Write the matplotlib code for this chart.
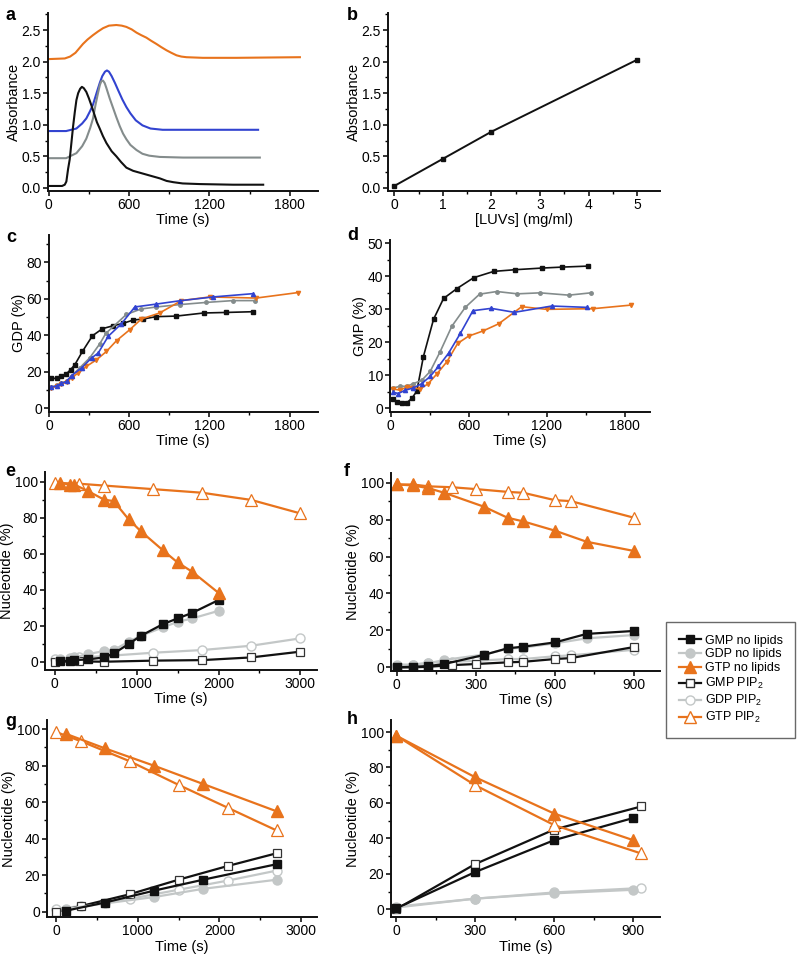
import numpy as np
import matplotlib
matplotlib.use("Agg")
import matplotlib.pyplot as plt
from matplotlib.ticker import MultipleLocator, FormatStrFormatter
from matplotlib.lines import Line2D

plt.rcParams['font.family'] = ['Liberation Sans', 'DejaVu Sans']
plt.rcParams['mathtext.fontset'] = 'custom'
plt.rcParams['mathtext.rm'] = 'Liberation Sans'

ORANGE = '#E8731C'
BLUE = '#3243D0'
GREY = '#848C8C'
LIGHT = '#C3C7C7'
BLACK = '#111111'

# panel a: absorbance traces
a_black_t = [0, 100, 120, 132, 145, 157, 170, 182, 195, 207, 220, 235, 248, 262, 281, 300, 320, 340, 360,
             381, 405, 431, 470, 505, 540, 580, 630, 680, 730, 780, 830, 880, 930, 1000, 1128, 1377, 1601]
a_black_y = [0.03, 0.03, 0.05, 0.10, 0.30, 0.45, 0.72, 0.97, 1.20, 1.39, 1.50, 1.57, 1.60, 1.58, 1.52, 1.42,
             1.30, 1.17, 1.04, 0.94, 0.82, 0.71, 0.58, 0.50, 0.41, 0.32, 0.27, 0.24, 0.21, 0.18, 0.15, 0.11,
             0.09, 0.07, 0.06, 0.05, 0.05]
a_grey_t = [0, 130, 207, 250, 281, 310, 331, 350, 368, 382, 393, 405, 418, 431, 455, 480, 505, 530, 555,
            580, 610, 655, 700, 750, 829, 1003, 1576]
a_grey_y = [0.47, 0.47, 0.55, 0.66, 0.78, 0.95, 1.10, 1.32, 1.50, 1.63, 1.69, 1.70, 1.66, 1.58, 1.42, 1.27,
            1.12, 0.98, 0.86, 0.77, 0.68, 0.60, 0.54, 0.51, 0.49, 0.48, 0.48]
a_blue_t = [0, 130, 207, 250, 281, 310, 331, 360, 381, 400, 420, 435, 450, 470, 495, 520, 550, 580, 610,
            650, 700, 760, 850, 1000, 1563]
a_blue_y = [0.90, 0.90, 0.94, 1.02, 1.10, 1.22, 1.32, 1.52, 1.66, 1.77, 1.84, 1.86, 1.84, 1.77, 1.66, 1.54,
            1.40, 1.28, 1.18, 1.07, 0.99, 0.94, 0.92, 0.92, 0.92]
a_orange_t = [0, 120, 160, 200, 256, 290, 331, 370, 406, 450, 505, 545, 580, 620, 655, 690, 729, 765, 804,
              840, 879, 915, 954, 990, 1028, 1150, 1400, 1875]
a_orange_y = [2.04, 2.05, 2.08, 2.14, 2.28, 2.35, 2.42, 2.48, 2.53, 2.57, 2.58, 2.57, 2.55, 2.51, 2.46, 2.42,
              2.38, 2.33, 2.28, 2.23, 2.18, 2.14, 2.10, 2.08, 2.07, 2.06, 2.06, 2.07]

# panel b: standard curve
b_conc = [0, 1, 2, 5]
b_abs = [0.03, 0.46, 0.89, 2.03]

# panel c: GDP (%)
c_black_t = [17, 55, 92, 125, 160, 192, 249, 324, 399, 479, 553, 628, 703, 803, 952, 1157, 1326, 1526]
c_black_y = [16.3, 16.3, 17.4, 18.5, 21.1, 23.8, 31.1, 39.7, 43.6, 45.2, 46.5, 48.3, 48.9, 50.2, 50.5, 52.2, 52.5, 52.9]
c_grey_t = [17, 55, 92, 130, 167, 229, 304, 379, 424, 578, 688, 803, 977, 1176, 1376, 1544]
c_grey_y = [11.3, 12.4, 13.7, 14.8, 17.6, 22.1, 27.6, 35.3, 41.0, 51.4, 54.4, 55.5, 56.8, 58.0, 59.0, 59.0]
c_blue_t = [17, 55, 92, 130, 167, 242, 317, 367, 442, 541, 641, 803, 977, 1226, 1525]
c_blue_y = [11.5, 12.2, 13.5, 14.6, 17.8, 22.0, 27.5, 30.2, 39.4, 46.3, 55.5, 57.1, 58.9, 61.0, 62.8]
c_orange_t = [17, 55, 92, 130, 167, 217, 279, 354, 429, 504, 603, 690, 827, 990, 1202, 1550, 1862]
c_orange_y = [11.0, 11.9, 13.0, 14.3, 16.7, 19.2, 22.9, 26.5, 31.1, 37.0, 43.0, 48.9, 52.2, 59.0, 61.0, 60.4, 63.4]

# panel d: GMP (%)
d_black_t = [21, 46, 85, 124, 162, 201, 252, 330, 407, 510, 639, 793, 955, 1162, 1320, 1519]
d_black_y = [2.7, 1.9, 1.7, 1.7, 3.0, 5.2, 15.7, 27.0, 33.3, 36.3, 39.6, 41.5, 42.0, 42.5, 42.8, 43.1]
d_grey_t = [21, 72, 124, 175, 239, 304, 381, 471, 574, 684, 817, 975, 1149, 1371, 1540]
d_grey_y = [6.2, 6.7, 6.7, 7.5, 8.5, 11.2, 17.2, 24.9, 30.6, 34.6, 35.4, 34.7, 35.0, 34.3, 35.0]
d_blue_t = [21, 59, 111, 175, 239, 304, 368, 445, 536, 633, 774, 952, 1238, 1511]
d_blue_y = [4.9, 4.5, 5.5, 6.2, 7.5, 9.7, 12.7, 16.7, 22.7, 29.6, 30.3, 29.1, 31.0, 30.6]
d_orange_t = [21, 72, 124, 162, 225, 287, 357, 434, 516, 600, 707, 830, 1008, 1200, 1557, 1851]
d_orange_y = [5.9, 5.5, 6.5, 6.2, 5.9, 7.4, 10.5, 14.2, 19.7, 21.9, 23.4, 25.6, 30.8, 30.0, 30.2, 31.3]

# panel e
e_nolip_t = [60, 180, 240, 410, 600, 720, 900, 1050, 1320, 1500, 1680, 2000]
e_gmp_nolip = [0.2, 0.6, 0.9, 1.3, 2.4, 4.6, 9.8, 14.4, 20.9, 24.1, 27.2, 34.3]
e_gdp_nolip = [1.3, 1.9, 2.4, 4.3, 5.9, 6.5, 11.1, 14.4, 19.1, 22.2, 24.1, 28.3]
e_gtp_nolip = [99.6, 98.5, 98.5, 94.8, 90.2, 89.3, 79.3, 72.6, 62.0, 55.2, 50.0, 38.3]
e_pip_t = [0, 300, 600, 1200, 1800, 2400, 3000]
e_gmp_pip = [0.0, 0.2, 0.0, 0.6, 0.9, 2.4, 5.6]
e_gdp_pip = [1.3, 2.4, 3.1, 5.0, 6.5, 8.9, 13.0]
e_gtp_pip = [99.5, 99.0, 98.0, 96.0, 94.0, 90.0, 82.5]

# panel f
f_nolip_t = [0, 60, 120, 180, 330, 420, 480, 600, 720, 900]
f_gmp_nolip = [0.0, 0.3, 0.7, 1.8, 6.7, 10.3, 11.2, 13.5, 18.1, 19.7]
f_gdp_nolip = [0.7, 1.3, 2.2, 4.0, 6.9, 10.0, 10.7, 13.0, 15.7, 17.5]
f_gtp_nolip = [99.0, 98.5, 97.0, 94.5, 87.0, 81.0, 79.0, 74.0, 68.0, 63.0]
f_pip_t = [0, 60, 120, 210, 300, 420, 480, 600, 660, 900]
f_gmp_pip = [0.0, 0.0, 0.3, 1.2, 1.8, 2.7, 3.0, 4.5, 5.0, 11.0]
f_gdp_pip = [1.5, 1.5, 2.5, 3.0, 3.5, 4.5, 4.5, 6.0, 6.5, 9.5]
f_gtp_pip = [99.0, 99.0, 98.0, 97.5, 96.5, 95.0, 94.5, 90.5, 90.0, 81.0]

# panel g
g_nolip_t = [120, 600, 1200, 1800, 2700]
g_gmp_nolip = [0.5, 5.0, 11.5, 17.5, 26.0]
g_gdp_nolip = [1.5, 4.5, 8.0, 12.5, 17.5]
g_gtp_nolip = [97.5, 89.5, 80.0, 70.0, 55.0]
g_pip_t = [0, 300, 900, 1500, 2100, 2700]
g_gmp_pip = [0.0, 3.0, 9.5, 17.5, 25.0, 32.0]
g_gdp_pip = [1.5, 3.0, 7.0, 12.0, 17.0, 22.5]
g_gtp_pip = [98.5, 93.5, 82.5, 69.5, 57.0, 44.5]

# panel h
h_nolip_t = [0, 300, 600, 900]
h_gmp_nolip = [0.5, 21.0, 39.0, 51.5]
h_gdp_nolip = [1.0, 6.0, 9.0, 11.0]
h_gtp_nolip = [98.0, 74.5, 54.0, 39.0]
h_pip_t = [0, 300, 600, 930]
h_gmp_pip = [0.0, 25.5, 45.0, 58.0]
h_gdp_pip = [1.5, 6.0, 9.5, 12.0]
h_gtp_pip = [98.0, 70.0, 47.5, 31.5]

LEGEND_LABELS = ['GMP no lipids', 'GDP no lipids', 'GTP no lipids',
                 'GMP PIP$_2$', 'GDP PIP$_2$', 'GTP PIP$_2$']


def style_axes(ax, xlim, ylim, xmaj, xmin, ymaj, ymin, xlabel, ylabel):
    ax.set_xlim(*xlim)
    ax.set_ylim(*ylim)
    ax.xaxis.set_major_locator(MultipleLocator(xmaj))
    ax.xaxis.set_minor_locator(MultipleLocator(xmin))
    ax.yaxis.set_major_locator(MultipleLocator(ymaj))
    ax.yaxis.set_minor_locator(MultipleLocator(ymin))
    for side in ['top', 'right']:
        ax.spines[side].set_visible(False)
    for side in ['left', 'bottom']:
        ax.spines[side].set_linewidth(1.4)
        ax.spines[side].set_color(BLACK)
    ax.tick_params(which='major', direction='out', length=3.5, width=1.1, labelsize=10, pad=1.5)
    ax.tick_params(which='minor', direction='out', length=2.2, width=1.0)
    ax.set_xlabel(xlabel, fontsize=10.5, labelpad=1)
    ax.set_ylabel(ylabel, fontsize=10.5, labelpad=0.5)


def nucleotide_panel(ax, nt, gmp_n, gdp_n, gtp_n, pt, gmp_p, gdp_p, gtp_p):
    lw = 1.6
    ax.plot(pt, gdp_p, '-o', color=LIGHT, lw=lw, ms=6.5, mfc='white', mec=LIGHT, mew=1.0)
    ax.plot(pt, gmp_p, '-s', color=BLACK, lw=lw, ms=5.5, mfc='white', mec='#333333', mew=0.9)
    ax.plot(nt, gdp_n, '-o', color=LIGHT, lw=lw, ms=6.5, mfc=LIGHT, mec=LIGHT)
    ax.plot(nt, gmp_n, '-s', color=BLACK, lw=lw, ms=5.5, mfc=BLACK, mec=BLACK)
    ax.plot(pt, gtp_p, '-^', color=ORANGE, lw=lw, ms=8, mfc='white', mec=ORANGE, mew=0.9)
    ax.plot(nt, gtp_n, '-^', color=ORANGE, lw=lw, ms=8, mfc=ORANGE, mec=ORANGE)


def main():
    fig = plt.figure(figsize=(8.0, 9.57), dpi=100)

    # a
    ax = fig.add_axes([0.06, 0.8004, 0.3375, 0.186])
    ax.plot(a_orange_t, a_orange_y, color=ORANGE, lw=1.5)
    ax.plot(a_blue_t, a_blue_y, color=BLUE, lw=1.5)
    ax.plot(a_grey_t, a_grey_y, color=GREY, lw=1.5)
    ax.plot(a_black_t, a_black_y, color=BLACK, lw=1.5)
    style_axes(ax, (-5, 2010), (-0.05, 2.77), 600, 300, 0.5, 0.25, 'Time (s)', 'Absorbance')
    ax.yaxis.set_major_formatter(FormatStrFormatter('%.1f'))

    # b
    ax = fig.add_axes([0.485, 0.8004, 0.34, 0.186])
    ax.plot(b_conc, b_abs, '-s', color=BLACK, lw=1.4, ms=3)
    style_axes(ax, (-0.13, 5.47), (-0.05, 2.77), 1, 0.5, 0.5, 0.25, '[LUVs] (mg/ml)', 'Absorbance')
    ax.yaxis.set_major_formatter(FormatStrFormatter('%.1f'))

    # c
    ax = fig.add_axes([0.061, 0.5698, 0.336, 0.1846])
    ax.plot(c_black_t, c_black_y, '-s', color=BLACK, lw=1.2, ms=2.5)
    ax.plot(c_grey_t, c_grey_y, '-o', color=GREY, lw=1.2, ms=2.5)
    ax.plot(c_orange_t, c_orange_y, '-v', color=ORANGE, lw=1.2, ms=3)
    ax.plot(c_blue_t, c_blue_y, '-^', color=BLUE, lw=1.2, ms=3)
    style_axes(ax, (-3, 2010), (-2, 95), 600, 300, 20, 10, 'Time (s)', 'GDP (%)')

    # d
    ax = fig.add_axes([0.4875, 0.5698, 0.325, 0.1794])
    ax.plot(d_black_t, d_black_y, '-s', color=BLACK, lw=1.2, ms=2.5)
    ax.plot(d_grey_t, d_grey_y, '-o', color=GREY, lw=1.2, ms=2.5)
    ax.plot(d_orange_t, d_orange_y, '-v', color=ORANGE, lw=1.2, ms=3)
    ax.plot(d_blue_t, d_blue_y, '-^', color=BLUE, lw=1.2, ms=3)
    style_axes(ax, (-5, 1995), (-1, 51), 600, 300, 10, 5, 'Time (s)', 'GMP (%)')

    # e
    ax = fig.add_axes([0.0563, 0.2999, 0.3396, 0.2072])
    nucleotide_panel(ax, e_nolip_t, e_gmp_nolip, e_gdp_nolip, e_gtp_nolip,
                     e_pip_t, e_gmp_pip, e_gdp_pip, e_gtp_pip)
    style_axes(ax, (-120, 3200), (-4.6, 105.7), 1000, 500, 20, 10, 'Time (s)', 'Nucleotide (%)')

    # f
    ax = fig.add_axes([0.4888, 0.2992, 0.336, 0.2069])
    nucleotide_panel(ax, f_nolip_t, f_gmp_nolip, f_gdp_nolip, f_gtp_nolip,
                     f_pip_t, f_gmp_pip, f_gdp_pip, f_gtp_pip)
    style_axes(ax, (-22, 998), (-1.8, 105.4), 300, 150, 20, 10, 'Time (s)', 'Nucleotide (%)')

    # g
    ax = fig.add_axes([0.0584, 0.0415, 0.3375, 0.2062])
    nucleotide_panel(ax, g_nolip_t, g_gmp_nolip, g_gdp_nolip, g_gtp_nolip,
                     g_pip_t, g_gmp_pip, g_gdp_pip, g_gtp_pip)
    style_axes(ax, (-114, 3191), (-3.1, 105.1), 1000, 500, 20, 10, 'Time (s)', 'Nucleotide (%)')

    # h
    ax = fig.add_axes([0.4888, 0.0415, 0.336, 0.2062])
    nucleotide_panel(ax, h_nolip_t, h_gmp_nolip, h_gdp_nolip, h_gtp_nolip,
                     h_pip_t, h_gmp_pip, h_gdp_pip, h_gtp_pip)
    style_axes(ax, (-19, 1001), (-4.5, 106.8), 300, 150, 20, 10, 'Time (s)', 'Nucleotide (%)')

    # legend
    handles = [
        Line2D([], [], color=BLACK, lw=1.6, marker='s', ms=5.5, mfc=BLACK, mec=BLACK),
        Line2D([], [], color=LIGHT, lw=1.6, marker='o', ms=6.5, mfc=LIGHT, mec=LIGHT),
        Line2D([], [], color=ORANGE, lw=1.6, marker='^', ms=8, mfc=ORANGE, mec=ORANGE),
        Line2D([], [], color=BLACK, lw=1.6, marker='s', ms=5.5, mfc='white', mec='#333333'),
        Line2D([], [], color=LIGHT, lw=1.6, marker='o', ms=6.5, mfc='white', mec=LIGHT),
        Line2D([], [], color=ORANGE, lw=1.6, marker='^', ms=8, mfc='white', mec=ORANGE),
    ]
    leg = fig.legend(handles, LEGEND_LABELS, loc='center',
                     bbox_to_anchor=(0.9135, 0.2895), fontsize=9, frameon=True,
                     fancybox=False, handlelength=1.8, handletextpad=0.3,
                     labelspacing=0.15, borderpad=1.0)
    leg.get_frame().set_edgecolor('#444444')
    leg.get_frame().set_linewidth(1.0)

    # panel letters
    letters = [('a', 5, 15), ('b', 347, 15), ('c', 6, 237), ('d', 347, 236),
               ('e', 5, 472), ('f', 344, 472), ('g', 5, 722), ('h', 347, 719)]
    for txt, px, py in letters:
        fig.text(px / 800, 1 - py / 957, txt, fontsize=13, fontweight='bold',
                 ha='left', va='center')

    fig.savefig('out.png', dpi=100)


if __name__ == '__main__':
    main()
